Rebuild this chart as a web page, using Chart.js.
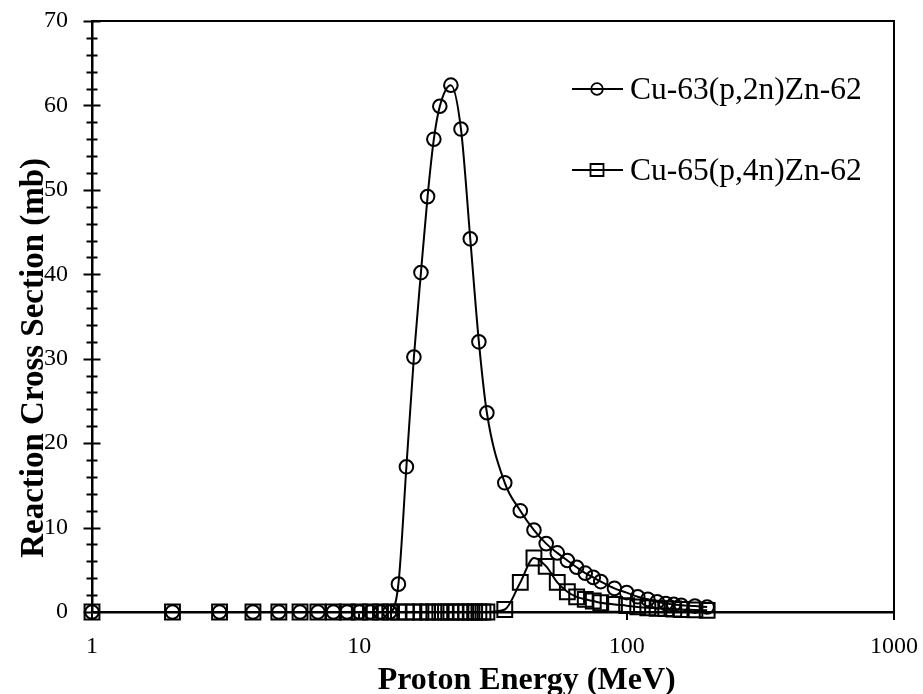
<!DOCTYPE html>
<html lang="en">
<head>
<meta charset="UTF-8">
<title>Reaction Cross Section</title>
<script src="https://cdn.jsdelivr.net/npm/chart.js@4"></script>
<style>
  body { margin: 0; background: #fff; }
  .caixa { width: 923px; height: 694px; }
</style>
</head>
<body>
<div class="caixa"><canvas id="grafico"></canvas></div>

<script>
// energias (MeV) e secoes de choque (mb)
const energiaCu63 = [1, 2, 3, 4, 5, 6, 7, 8, 9, 10, 11, 12, 13, 14, 15, 16, 17, 18, 19, 20,
  22, 24, 26, 28, 30, 35, 40, 45, 50, 55, 60, 65, 70, 75, 80,
  90, 100, 110, 120, 130, 140, 150, 160, 180, 200];
const secaoCu63 = [0, 0, 0, 0, 0, 0, 0, 0, 0, 0, 0, 0, 0, 3.3, 17.2, 30.2, 40.2, 49.2, 56.0, 59.9,
  62.4, 57.2, 44.2, 32.0, 23.6, 15.3, 12.0, 9.7, 8.1, 7.0, 6.1, 5.3, 4.6, 4.1, 3.6,
  2.8, 2.3, 1.8, 1.5, 1.2, 1.0, 0.9, 0.8, 0.7, 0.6];

const energiaCu65 = [1, 2, 3, 4, 5, 6, 7, 8, 9, 10, 11, 12, 13, 14, 15, 16, 17, 18, 19, 20,
  21, 22, 23, 24, 25, 26, 27, 28, 29, 30, 35, 40, 45, 50, 55, 60, 65, 70, 75, 80,
  90, 100, 110, 120, 130, 140, 150, 160, 180, 200];
const secaoCu65 = [0, 0, 0, 0, 0, 0, 0, 0, 0, 0, 0, 0, 0, 0, 0, 0, 0, 0, 0, 0,
  0, 0, 0, 0, 0, 0, 0, 0, 0, 0, 0.3, 3.5, 6.4, 5.4, 3.5, 2.4, 1.8, 1.5, 1.3, 1.1,
  0.9, 0.75, 0.6, 0.5, 0.45, 0.4, 0.35, 0.3, 0.25, 0.2];

const nomes = ['Cu-63(p,2n)Zn-62', 'Cu-65(p,4n)Zn-62'];
const marcadores = ['circle', 'rect'];

const ticksX = [1, 10, 100, 1000];
const yMin = 0, yMax = 70, yPasso = 10, yPassoMenor = 2;

const fonte = "'Liberation Serif', 'Times New Roman', serif";

function pontos(xs, ys) {
  return xs.map((x, i) => ({ x: x, y: ys[i] }));
}

// moldura, ticks cruzados no eixo y, legenda e titulos dos eixos
const extras = {
  id: 'extras',
  afterDraw(chart) {
    const { ctx, chartArea: a, scales: { y } } = chart;
    ctx.save();
    ctx.strokeStyle = '#000';
    ctx.fillStyle = '#000';

    ctx.lineWidth = 2;
    ctx.beginPath();
    ctx.moveTo(a.left, a.top);
    ctx.lineTo(a.right, a.top);
    ctx.lineTo(a.right, a.bottom + 4);
    ctx.stroke();

    for (let v = yMin; v <= yMax; v += yPassoMenor) {
      const py = Math.round(y.getPixelForValue(v)) + 0.5;
      const len = v % yPasso === 0 ? 8.5 : 5.5;
      ctx.beginPath();
      ctx.moveTo(a.left - len, py);
      ctx.lineTo(a.left + len, py);
      ctx.stroke();
    }

    // legenda
    ctx.font = '31.5px ' + fonte;
    ctx.textAlign = 'left';
    ctx.textBaseline = 'alphabetic';
    chart.data.datasets.forEach((ds, i) => {
      const ly = a.top + 68 + i * 81;
      ctx.lineWidth = 2;
      ctx.beginPath();
      ctx.moveTo(a.right - 322, ly);
      ctx.lineTo(a.right - 271, ly);
      ctx.stroke();
      ctx.lineWidth = 1.8;
      ctx.beginPath();
      const cx = a.right - 297;
      if (marcadores[i] === 'circle') {
        ctx.arc(cx, ly, 5.8, 0, Math.PI * 2);
      } else {
        ctx.rect(cx - 6.5, ly - 6, 13, 12);
      }
      ctx.stroke();
      ctx.fillText(ds.label, a.right - 264, ly + 10);
    });

    // titulos
    ctx.font = 'bold 32px ' + fonte;
    ctx.textAlign = 'center';
    ctx.fillText('Proton Energy (MeV)', a.left + 0.542 * (a.right - a.left), a.bottom + 77);
    ctx.font = 'bold 33px ' + fonte;
    ctx.translate(43, a.top + 0.57 * (a.bottom - a.top));
    ctx.rotate(-Math.PI / 2);
    ctx.fillText('Reaction Cross Section (mb)', 0, 0);
    ctx.restore();
  }
};

const estiloSerie = {
  borderColor: '#000',
  borderWidth: 2,
  pointBorderColor: '#000',
  pointBackgroundColor: 'rgba(0,0,0,0)',
  pointBorderWidth: 2,
  cubicInterpolationMode: 'monotone',
  fill: false,
  clip: false
};

new Chart(document.getElementById('grafico'), {
  type: 'line',
  data: {
    datasets: [
      Object.assign({ label: nomes[0], data: pontos(energiaCu63, secaoCu63), pointStyle: marcadores[0], pointRadius: 6.8 }, estiloSerie),
      Object.assign({ label: nomes[1], data: pontos(energiaCu65, secaoCu65), pointStyle: marcadores[1], pointRadius: 10.5 }, estiloSerie)
    ]
  },
  options: {
    responsive: true,
    maintainAspectRatio: false,
    animation: false,
    events: [],
    layout: { padding: { top: 21, right: 29, left: 0, bottom: 0 } },
    plugins: { legend: { display: false }, tooltip: { enabled: false } },
    scales: {
      x: {
        type: 'logarithmic',
        min: ticksX[0],
        max: ticksX[ticksX.length - 1],
        afterBuildTicks: (s) => { s.ticks = ticksX.map(v => ({ value: v })); },
        afterFit: (s) => { s.height = 82; s.paddingLeft = 0; s.paddingRight = 0; },
        border: { display: true, color: '#000', width: 2.5 },
        grid: { drawOnChartArea: false, drawTicks: true, tickLength: 8, color: '#000', lineWidth: 2 },
        ticks: {
          color: '#000',
          padding: 12,
          maxRotation: 0,
          font: { family: fonte, size: 24 },
          callback: (v) => String(v)
        }
      },
      y: {
        min: yMin,
        max: yMax,
        afterFit: (s) => { s.width = 92; s.paddingTop = 0; s.paddingBottom = 0; },
        border: { display: true, color: '#000', width: 2.5 },
        grid: { drawOnChartArea: false, drawTicks: true, tickLength: 8, color: 'rgba(0,0,0,0)' },
        ticks: {
          stepSize: yPasso,
          color: '#000',
          padding: 16,
          font: { family: fonte, size: 24 }
        }
      }
    }
  },
  plugins: [extras]
});
</script>
</body>
</html>
